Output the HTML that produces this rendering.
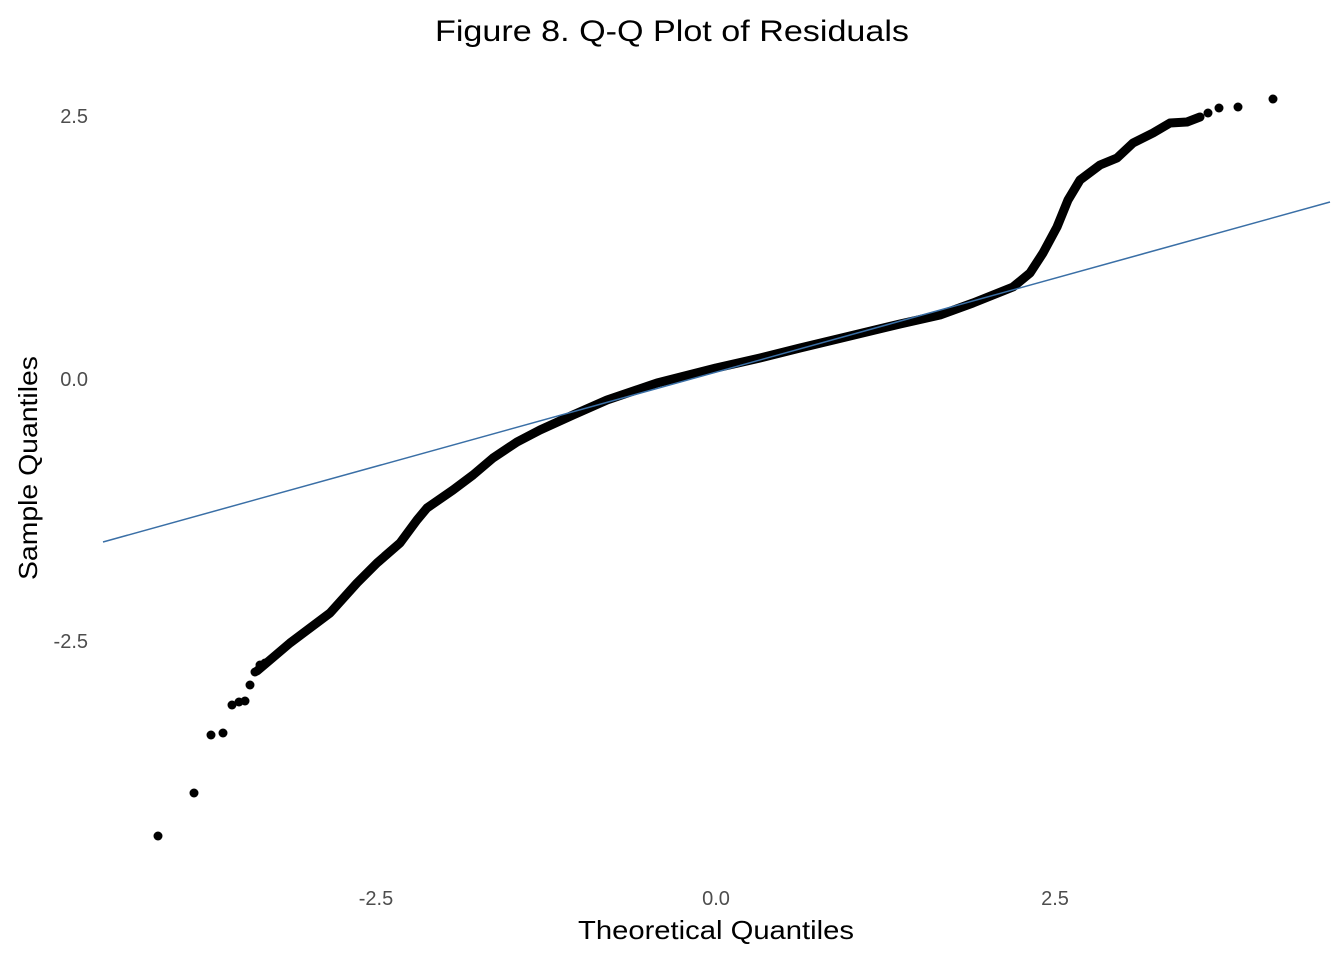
<!DOCTYPE html>
<html><head><meta charset="utf-8"><style>
html,body{margin:0;padding:0;background:#fff;}
svg{display:block;}
text{font-family:"Liberation Sans",Arial,sans-serif;}
</style></head><body>
<svg width="1344" height="960" viewBox="0 0 1344 960" xmlns="http://www.w3.org/2000/svg">
<rect width="1344" height="960" fill="#fff"/>
<text x="672" y="41" font-size="30" text-anchor="middle" fill="#000" textLength="474" lengthAdjust="spacingAndGlyphs">Figure 8. Q-Q Plot of Residuals</text>
<g font-size="20" fill="#4d4d4d">
<text x="88" y="123" text-anchor="end">2.5</text>
<text x="88" y="386" text-anchor="end">0.0</text>
<text x="88" y="648" text-anchor="end">-2.5</text>
<text x="376" y="905" text-anchor="middle">-2.5</text>
<text x="716" y="905" text-anchor="middle">0.0</text>
<text x="1055" y="905" text-anchor="middle">2.5</text>
</g>
<text x="716" y="939" font-size="26" text-anchor="middle" fill="#000" textLength="276" lengthAdjust="spacingAndGlyphs">Theoretical Quantiles</text>
<text transform="translate(37,468) rotate(-90)" font-size="26" text-anchor="middle" fill="#000" textLength="224" lengthAdjust="spacingAndGlyphs">Sample Quantiles</text>
<path d="M257,671 L270,660 L290,643 L310,628 L330,613 L357,583 L377,563 L400,543 L417,520 L427,508 L453,490 L473,475 L493,458 L517,442 L540,430 L573,415 L607,400 L657,383 L716,368 L760,358 L800,348 L850,336 L900,324 L940,315 L973,303 L1013,287 L1030,273 L1043,253 L1057,227 L1068,200 L1080,180 L1100,165 L1117,158 L1133,143 L1153,133 L1170,123 L1187,122 L1200,117" fill="none" stroke="#000" stroke-width="9" stroke-linecap="round" stroke-linejoin="round"/>
<g fill="#000">
<circle cx="158" cy="836" r="4.5"/><circle cx="194" cy="793" r="4.5"/>
<circle cx="211" cy="735" r="4.5"/><circle cx="223" cy="733" r="4.5"/>
<circle cx="232" cy="705" r="4.5"/><circle cx="239" cy="702" r="4.5"/>
<circle cx="245" cy="701" r="4.5"/><circle cx="250" cy="685" r="4.5"/>
<circle cx="255" cy="672" r="4.5"/><circle cx="260" cy="665" r="4.5"/>
<circle cx="265" cy="663" r="4.5"/>
<circle cx="1208" cy="113" r="4.5"/>
<circle cx="1219" cy="108" r="4.5"/><circle cx="1238" cy="107" r="4.5"/>
<circle cx="1273" cy="99" r="4.5"/>
</g>
<line x1="103" y1="542" x2="1330" y2="202" stroke="#3a6fa6" stroke-width="1.5"/>
</svg>
</body></html>
